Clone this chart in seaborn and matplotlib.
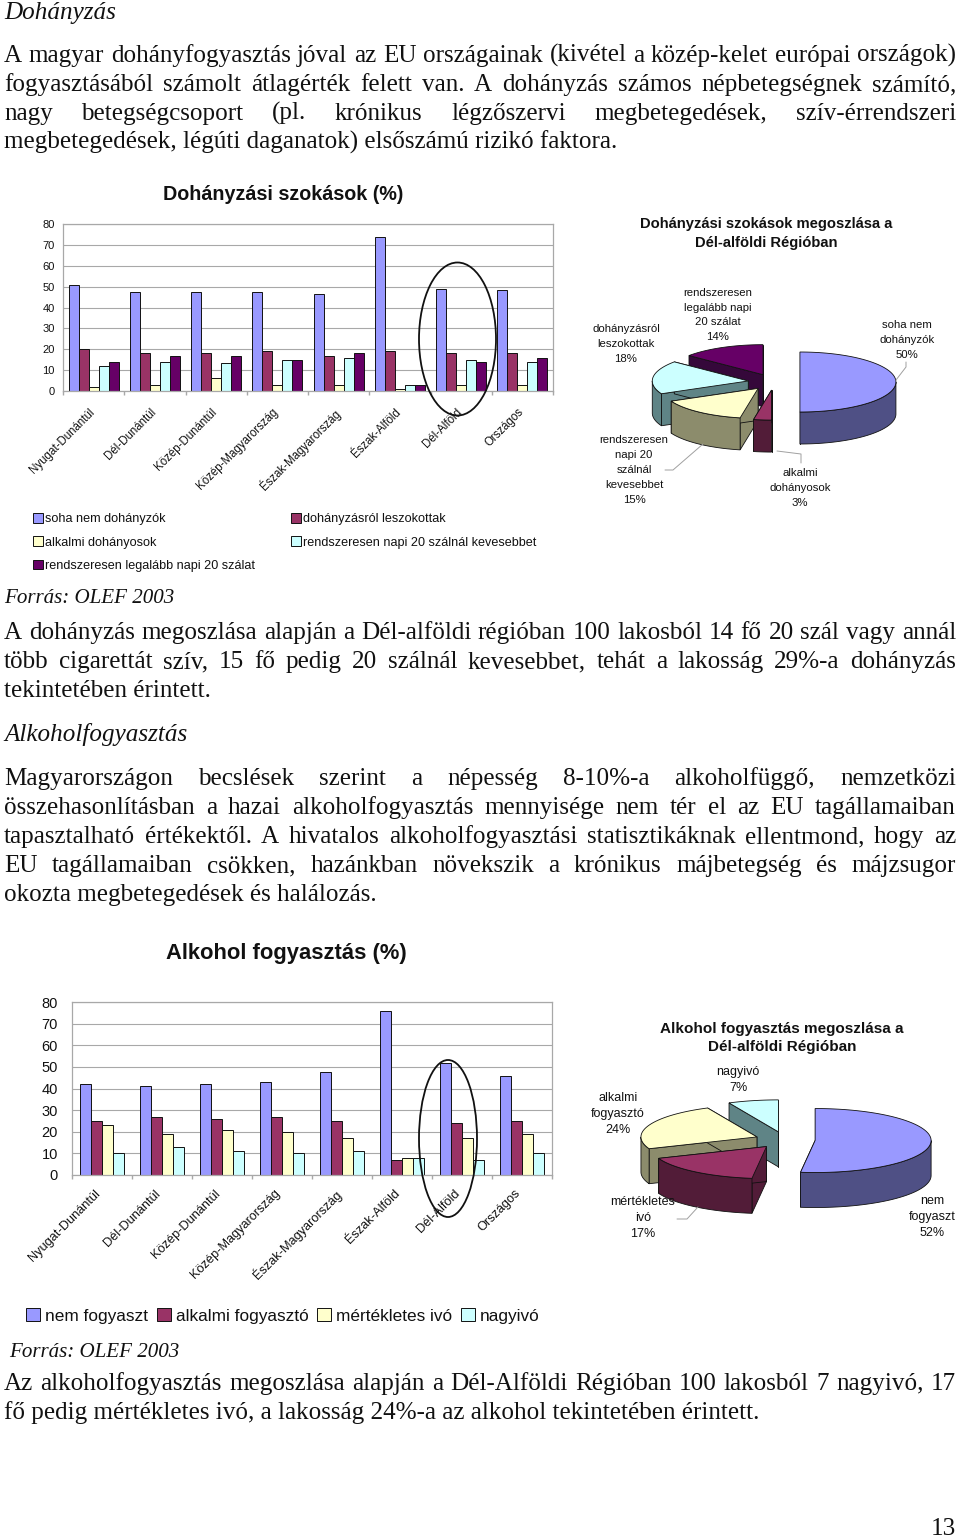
import matplotlib
matplotlib.use("Agg")
import matplotlib.pyplot as plt
import numpy as np
import pandas as pd
import seaborn as sns
from matplotlib.patches import Ellipse, Polygon
from matplotlib.ticker import FixedLocator
from matplotlib.transforms import ScaledTranslation

regions = ["Nyugat-Dunántúl", "Dél-Dunántúl", "Közép-Dunántúl", "Közép-Magyarország",
           "Észak-Magyarország", "Észak-Alföld", "Dél-Alföld", "Országos"]

smoke_groups = ["soha nem dohányzók", "dohányzásról leszokottak", "alkalmi dohányosok",
                "rendszeresen napi 20 szálnál kevesebbet", "rendszeresen legalább napi 20 szálat"]
smoke_never = [51, 47.5, 47.5, 47.5, 46.5, 74, 49, 48.5]
smoke_quit = [20, 18, 18, 19, 17, 19, 18, 18]
smoke_casual = [2, 3, 6, 3, 3, 1, 3, 3]
smoke_under20 = [12, 14, 13.5, 15, 16, 3, 15, 14]
smoke_over20 = [14, 17, 17, 15, 18, 3, 14, 16]

alc_groups = ["nem fogyaszt", "alkalmi fogyasztó", "mértékletes ivó", "nagyivó"]
alc_none = [42, 41, 42, 43, 47.5, 76, 52, 46]
alc_casual = [25, 27, 26, 27, 25, 7, 24, 25]
alc_moderate = [23, 19, 21, 20, 17, 8, 17, 19]
alc_heavy = [10, 13, 11, 10, 11, 8, 7, 10]

smoke_pie_values = [50, 3, 15, 18, 14]
smoke_pie_labels = ["soha nem\ndohányzók", "alkalmi\ndohányosok", "rendszeresen\nnapi 20\nszálnál\nkevesebbet",
                    "dohányzásról\nleszokottak", "rendszeresen\nlegalább napi\n20 szálat"]
alc_pie_values = [52, 17, 24, 7]
alc_pie_labels = ["nem\nfogyaszt", "mértékletes\nivó", "alkalmi\nfogyasztó", "nagyivó"]

para1 = ["A magyar dohányfogyasztás jóval az EU országainak (kivétel a közép-kelet európai országok)",
         "fogyasztásából számolt átlagérték felett van. A dohányzás számos népbetegségnek számító,",
         "nagy betegségcsoport (pl. krónikus légzőszervi megbetegedések, szív-érrendszeri",
         "megbetegedések, légúti daganatok) elsőszámú rizikó faktora."]
para2 = ["A dohányzás megoszlása alapján a Dél-alföldi régióban 100 lakosból 14 fő 20 szál vagy annál",
         "több cigarettát szív, 15 fő pedig 20 szálnál kevesebbet, tehát a lakosság 29%-a dohányzás",
         "tekintetében érintett."]
para3 = ["Magyarországon becslések szerint a népesség 8-10%-a alkoholfüggő, nemzetközi",
         "összehasonlításban a hazai alkoholfogyasztás mennyisége nem tér el az EU tagállamaiban",
         "tapasztalható értékektől. A hivatalos alkoholfogyasztási statisztikáknak ellentmond, hogy az",
         "EU tagállamaiban csökken, hazánkban növekszik a krónikus májbetegség és májzsugor",
         "okozta megbetegedések és halálozás."]
para4 = ["Az alkoholfogyasztás megoszlása alapján a Dél-Alföldi Régióban 100 lakosból 7 nagyivó, 17",
         "fő pedig mértékletes ivó, a lakosság 24%-a az alkohol tekintetében érintett."]

colors = {"blue": "#9999ff", "maroon": "#993366", "yellow": "#ffffcc", "cyan": "#ccffff", "purple": "#660066"}
walls = {"blue": "#4f5085", "maroon": "#521c38", "yellow": "#8c8c6c", "cyan": "#5f8486", "purple": "#35083a"}

sns.set_theme(style="white")
plt.rcParams["font.family"] = ["Liberation Sans", "DejaVu Sans"]

W, H = 960, 1537
fig = plt.figure(figsize=(W / 100, H / 100), dpi=100)
over = fig.add_axes([0, 0, 1, 1], zorder=10)
over.set_xlim(0, W)
over.set_ylim(H, 0)
over.axis("off")
over.patch.set_alpha(0)
SERIF = "Liberation Serif"
BODY = 18.1


def px_axes(x0, x1, ytop, ybot):
    return fig.add_axes([x0 / W, 1 - ybot / H, (x1 - x0) / W, (ybot - ytop) / H])


def body_lines(lines, y0, step=29):
    # every line but the last is stretched to the full text width
    rend = fig.canvas.get_renderer()
    for i, line in enumerate(lines):
        y = y0 + i * step
        if i == len(lines) - 1:
            over.text(4, y, line, family=SERIF, fontsize=BODY, color="#111111", va="baseline")
            continue
        words = [over.text(0, y, w, family=SERIF, fontsize=BODY, color="#111111", va="baseline")
                 for w in line.split(" ")]
        widths = [t.get_window_extent(rend).width for t in words]
        gap = (952 - sum(widths)) / (len(words) - 1)
        x = 4
        for t, w in zip(words, widths):
            t.set_x(x)
            x += w + gap


def bar_chart(box, groups, series, palette, tick_size, label_size, bar_width, label_shift, label_pad, y_pad):
    ax = px_axes(*box)
    rows = pd.DataFrame({"region": regions * len(groups),
                         "group": [g for g in groups for _ in regions],
                         "value": [v for s in series for v in s]})
    sns.barplot(data=rows, x="region", y="value", hue="group", order=regions, hue_order=groups,
                palette=palette, width=bar_width, gap=0, saturation=1, edgecolor="#111111",
                linewidth=0.7, ax=ax)
    ax.set_xlim(-0.5, len(regions) - 0.5)
    ax.set_ylim(0, 80)
    ax.set_yticks(range(0, 90, 10))
    ax.set_xlabel("")
    ax.set_ylabel("")
    ax.set_axisbelow(True)
    ax.yaxis.grid(True, color="#a8a8a8", lw=0.8)
    for s in ax.spines.values():
        s.set_color("#a8a8a8")
        s.set_linewidth(0.9)
    ax.xaxis.set_minor_locator(FixedLocator(np.arange(len(regions) + 1) - 0.5))
    ax.tick_params(axis="x", which="minor", bottom=True, length=3, color="#a8a8a8")
    ax.tick_params(axis="x", which="major", length=0, pad=label_pad)
    ax.tick_params(axis="y", labelsize=tick_size, length=0, pad=y_pad, labelcolor="#111111")
    plt.setp(ax.get_xticklabels(), rotation=45, ha="right", rotation_mode="anchor",
             fontsize=label_size, color="#111111")
    shift = ScaledTranslation(label_shift / 100, 0, fig.dpi_scale_trans)
    for t in ax.get_xticklabels():
        t.set_transform(t.get_transform() + shift)
    return ax


def pie_3d(values, labels, names, center, rx, ry, depth, explode, spots, leaders, size, spacing):
    angles = np.cumsum([0] + values) * 3.6
    pieces = []
    for k, (v, name) in enumerate(zip(values, names)):
        a0, a1 = angles[k], angles[k + 1]
        mid = np.radians((a0 + a1) / 2)
        cx = center[0] + explode * rx * np.sin(mid)
        cy = center[1] - explode * ry * np.cos(mid)
        pieces.append((cy, cx, a0, a1, name))
    for cy, cx, a0, a1, name in sorted(pieces):
        def rim(t):
            t = np.radians(t)
            return np.column_stack([cx + rx * np.sin(t), cy - ry * np.cos(t)])

        arc = rim(np.linspace(a0, a1, 80))
        down = np.array([0, depth])
        for end in (arc[0], arc[-1]):
            apex = np.array([cx, cy])
            over.add_patch(Polygon([apex, end, end + down, apex + down], fc=walls[name],
                                   ec="#111111", lw=0.6))
        lo, hi = max(a0, 90), min(a1, 270)
        if hi > lo:
            front = rim(np.linspace(lo, hi, 80))
            over.add_patch(Polygon(np.vstack([front, (front + down)[::-1]]), fc=walls[name],
                                   ec="#111111", lw=0.6))
        over.add_patch(Polygon(np.vstack([[cx, cy], arc]), fc=colors[name], ec="#111111", lw=0.6))
    for lab, v, (x, y) in zip(labels, values, spots):
        over.text(x, y, f"{lab}\n{v}%", ha="center", va="center", fontsize=size, linespacing=spacing,
                  color="#111111")
    for xs, ys in leaders:
        over.plot(xs, ys, color="#a0a0a0", lw=0.7)


# body text
over.text(4, 18.5, "Dohányzás", family=SERIF, style="italic", fontsize=BODY, color="#111111")
body_lines(para1, 62)
over.text(4, 603, "Forrás: OLEF 2003", family=SERIF, style="italic", fontsize=15.1, color="#111111")
body_lines(para2, 639)
over.text(4, 741, "Alkoholfogyasztás", family=SERIF, style="italic", fontsize=BODY, color="#111111")
body_lines(para3, 785)
over.text(9, 1357, "Forrás: OLEF 2003", family=SERIF, style="italic", fontsize=15.1, color="#111111")
body_lines(para4, 1390)
over.text(956, 1535, "13", family=SERIF, fontsize=BODY, color="#111111", ha="right")

# smoking bars
smoke_pal = [colors[c] for c in ["blue", "maroon", "yellow", "cyan", "purple"]]
ax1 = bar_chart((63, 553, 224, 391), smoke_groups,
                [smoke_never, smoke_quit, smoke_casual, smoke_under20, smoke_over20],
                smoke_pal, 8, 8.3, 0.82, -5, 11, 6)
h, l = ax1.get_legend_handles_labels()
order = [0, 2, 4, 1, 3]
ax1.legend([h[i] for i in order], [l[i] for i in order], ncol=2, loc="upper left",
           bbox_to_anchor=(33 / W, 1 - 513 / H), bbox_transform=fig.transFigure, frameon=False,
           fontsize=9.1, handlelength=0.8, handleheight=0.8, handletextpad=0.15, labelspacing=0.88,
           columnspacing=2.86, borderpad=0, borderaxespad=0, labelcolor="#111111")
over.text(283, 194, "Dohányzási szokások (%)", fontsize=14.2, weight="bold", ha="center", va="center",
          color="#111111")
over.add_patch(Ellipse((457.5, 339), 77, 153, fill=False, ec="#111111", lw=1.3))

# alcohol bars
alc_pal = [colors[c] for c in ["blue", "maroon", "yellow", "cyan"]]
ax2 = bar_chart((72, 552, 1002, 1175), alc_groups, [alc_none, alc_casual, alc_moderate, alc_heavy],
                alc_pal, 10.5, 9.2, 0.73, -8, 9, 10)
ax2.legend(ncol=4, loc="upper left", bbox_to_anchor=(26 / W, 1 - 1308 / H),
           bbox_transform=fig.transFigure, frameon=False, fontsize=12.45, handlelength=0.8,
           handleheight=0.8, handletextpad=0.3, columnspacing=0.5, borderpad=0, borderaxespad=0,
           labelcolor="#111111")
over.text(286, 954, "Alkohol fogyasztás (%)", fontsize=15.8, weight="bold", ha="center", va="center",
          color="#111111")
over.add_patch(Ellipse((448, 1138.5), 58, 157, fill=False, ec="#111111", lw=1.3))

# pies
over.text(766, 233.5, "Dohányzási szokások megoszlása a\nDél-alföldi Régióban", fontsize=10.6, weight="bold",
          ha="center", va="center", linespacing=1.53, color="#111111")
pie_3d(smoke_pie_values, smoke_pie_labels, ["blue", "maroon", "yellow", "cyan", "purple"],
       (774, 382), 96, 30, 32, 0.27,
       [(907, 340), (800, 488), (634, 470), (626, 344), (718, 315)],
       [([896, 906, 906], [380, 367, 362]), ([777, 801, 801], [451, 454, 463]),
        ([703, 673, 665], [444, 470, 470])], 8.2, 1.6)
over.text(782, 1038, "Alkohol fogyasztás megoszlása a\nDél-alföldi Régióban", fontsize=10.95, weight="bold",
          ha="center", va="center", linespacing=1.41, color="#111111")
pie_3d(alc_pie_values, alc_pie_labels, ["blue", "maroon", "yellow", "cyan"],
       (785, 1140), 116, 32, 35, 0.26,
       [(932, 1217), (643, 1218), (618, 1114), (738, 1080)],
       [([698, 687, 677], [1207, 1219, 1219])], 9, 1.45)

fig.savefig("out.png", dpi=100, facecolor="white")
